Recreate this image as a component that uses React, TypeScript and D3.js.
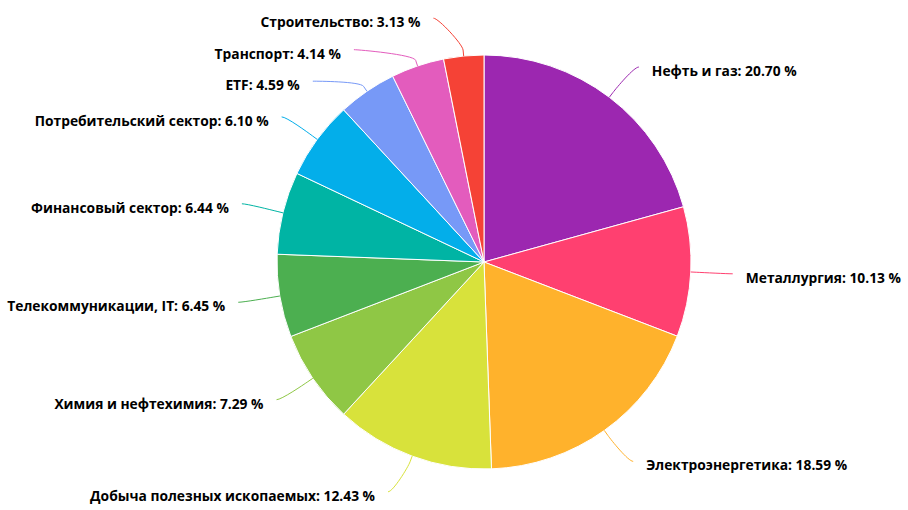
import React from "react";
import * as d3 from "d3";

const categories = [
  "Нефть и газ",
  "Металлургия",
  "Электроэнергетика",
  "Добыча полезных ископаемых",
  "Химия и нефтехимия",
  "Телекоммуникации, IT",
  "Финансовый сектор",
  "Потребительский сектор",
  "ETF",
  "Транспорт",
  "Строительство",
];
const values = [20.7, 10.13, 18.59, 12.43, 7.29, 6.45, 6.44, 6.1, 4.59, 4.14, 3.13];
const colors = [
  "#9c27b0",
  "#ff4070",
  "#ffb22c",
  "#d8e23b",
  "#8fc745",
  "#4caf50",
  "#00b4a4",
  "#03aeea",
  "#7799f7",
  "#e35cbd",
  "#f54236",
];

const W = 908;
const H = 510;
const cx = 484;
const cy = 262;
const r = 207;
const labelR = 245;
const labelRx = 249;
const minGap = 31.5;

export default function App() {
  const pie = d3
    .pie<number>()
    .sort(null)
    .value((d) => d);
  const arcs = pie(values);
  const arcGen = d3.arc<d3.PieArcDatum<number>>().innerRadius(0).outerRadius(r);

  type L = {
    i: number;
    mid: number;
    right: boolean;
    y: number;
    x: number;
  };
  const labels: L[] = arcs.map((a, i) => {
    const mid = (a.startAngle + a.endAngle) / 2;
    return {
      i,
      mid,
      right: Math.sin(mid) >= 0,
      y: cy - labelR * Math.cos(mid),
      x: 0,
    };
  });
  // simple top-down distribution per side
  [true, false].forEach((side) => {
    const group = labels.filter((l) => l.right === side).sort((a, b) => a.y - b.y);
    for (let k = 1; k < group.length; k++) {
      if (group[k].y < group[k - 1].y + minGap) group[k].y = group[k - 1].y + minGap;
    }
  });
  labels.forEach((l) => {
    const dy = l.y - cy;
    const dx = Math.sqrt(Math.max(0, labelRx * labelRx - dy * dy));
    l.x = l.right ? cx + dx : cx - dx;
  });

  return (
    <svg width={W} height={H} style={{ position: "absolute", left: 0, top: 0 }}>
      <rect width={W} height={H} fill="#fff" />
      <g transform={`translate(${cx},${cy})`}>
        {arcs.map((a, i) => (
          <path key={i} d={arcGen(a) || ""} fill={colors[i]} stroke="#fff" strokeWidth={1} />
        ))}
      </g>
      {labels.map((l) => {
        const tx = cx + r * Math.sin(l.mid);
        const ty = cy - r * Math.cos(l.mid);
        const bx = cx + (r + 6) * Math.sin(l.mid);
        const by = cy - (r + 6) * Math.cos(l.mid);
        const c1x = l.x + (l.right ? -5 : 5);
        const path = `M${l.x},${l.y} C${c1x},${l.y} ${2 * bx - tx},${2 * by - ty} ${bx},${by} L${tx},${ty}`;
        return (
          <path key={"c" + l.i} d={path} fill="none" stroke={colors[l.i]} strokeWidth={1} />
        );
      })}
      {labels.map((l) => (
        <text
          key={"t" + l.i}
          x={l.right ? l.x + 13 : l.x - 13}
          y={l.y + 9}
          textAnchor={l.right ? "start" : "end"}
          fontFamily="'Open Sans', sans-serif"
          fontWeight="bold"
          fontSize={13.8}
          fill="#000"
        >
          {`${categories[l.i]}: ${values[l.i].toFixed(2)} %`}
        </text>
      ))}
    </svg>
  );
}
